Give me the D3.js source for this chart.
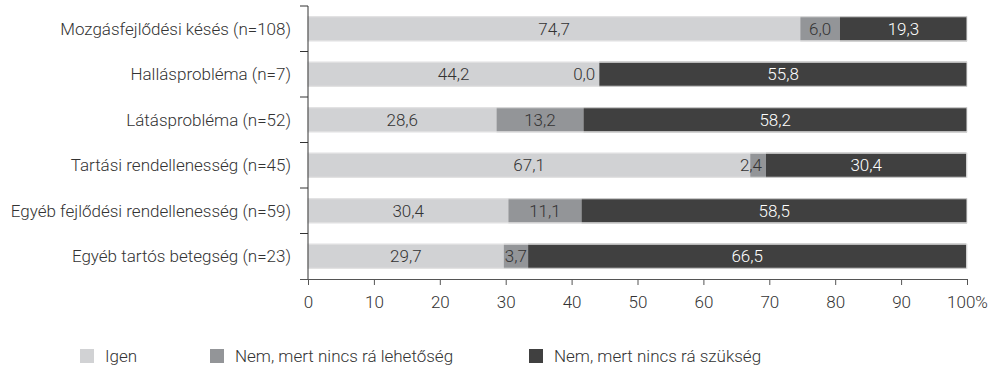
<!DOCTYPE html>
<html><head><meta charset="utf-8">
<script src="https://cdn.jsdelivr.net/npm/d3@7"></script>
<style>
body{margin:0;background:#fff;}
text{font-family:Roboto,"Open Sans",sans-serif;font-weight:300;}
</style></head>
<body><svg id="c" width="996" height="372"></svg>
<script>
const categories = ["Mozgásfejlődési késés  (n=108)","Hallásprobléma (n=7)","Látásprobléma (n=52)","Tartási rendellenesség (n=45)","Egyéb fejlődési rendellenesség (n=59)","Egyéb tartós betegség (n=23)"];
const seriesNames = ["Igen","Nem, mert nincs rá lehetőség","Nem, mert nincs rá szükség"];
const igen = [74.7,44.2,28.6,67.1,30.4,29.7];
const nincsLehetoseg = [6.0,0.0,13.2,2.4,11.1,3.7];
const nincsSzukseg = [19.3,55.8,58.2,30.4,58.5,66.5];
const xTicks = [0,10,20,30,40,50,60,70,80,90,100];
const colors = ["#d1d2d4","#939598","#404040"];
const textColors = ["#333333","#333333","#ffffff"];
const FS = 17;

const svg = d3.select("#c");
const x = d3.scaleLinear().domain([0,100]).range([308,967]);
const y = d3.scaleBand().domain(categories).range([6,279]).paddingInner(0.45).paddingOuter(0.225);

const rows = categories.map((c,i)=>({cat:c, vals:[igen[i],nincsLehetoseg[i],nincsSzukseg[i]]}));
const segs = [];
rows.forEach(r=>{let acc=0; r.vals.forEach((v,k)=>{segs.push({cat:r.cat,k,v,x0:acc,x1:acc+v}); acc+=v;});});

svg.append("g").selectAll("rect").data(segs).join("rect")
  .attr("x",d=>x(d.x0)).attr("width",d=>x(d.x1)-x(d.x0))
  .attr("y",d=>y(d.cat)).attr("height",y.bandwidth())
  .attr("fill",d=>colors[d.k]);
// light outline round each bar
svg.append("g").selectAll("rect").data(categories).join("rect")
  .attr("x",x(0)).attr("width",x(100)-x(0)).attr("y",d=>y(d)+0.5).attr("height",y.bandwidth()-1)
  .attr("fill","none").attr("stroke","#e4e4e4").attr("stroke-width",1);

const fmt = v=>v.toFixed(1).replace(".",",");
const lbl = svg.append("g").selectAll("text").data(segs).join("text")
  .attr("y",d=>y(d.cat)+y.bandwidth()/2).attr("dy","0.36em")
  .attr("font-size",FS).attr("fill",d=>textColors[d.k])
  .text(d=>fmt(d.v));
lbl.each(function(d){
  const w=this.getComputedTextLength(); const sw=x(d.x1)-x(d.x0);
  const s=d3.select(this);
  if(w>sw){s.attr("text-anchor","end").attr("x",x(d.x1)-4);}
  else {s.attr("text-anchor","middle").attr("x",(x(d.x0)+x(d.x1))/2);}
});

// y axis
const yAxisG = svg.append("g");
yAxisG.append("line").attr("x1",308).attr("x2",308).attr("y1",6).attr("y2",279).attr("stroke","#333");
const bounds = categories.map(c=>y(c)-y.step()*y.paddingInner()/2);
bounds[0]=6;
yAxisG.selectAll("line.t").data(bounds).join("line").attr("class","t")
  .attr("x1",300).attr("x2",308).attr("y1",d=>d).attr("y2",d=>d).attr("stroke","#333");
yAxisG.selectAll("text").data(categories).join("text")
  .attr("x",291).attr("y",d=>y(d)+y.bandwidth()/2).attr("dy","0.36em")
  .attr("text-anchor","end").attr("font-size",FS).attr("fill","#333").text(d=>d);

// x axis
const xa = svg.append("g").attr("transform","translate(0,279)")
  .call(d3.axisBottom(x).tickValues(xTicks).tickSize(6).tickPadding(11).tickFormat(d=>d===100?"100%":d));
xa.select(".domain").attr("stroke","#555").attr("d","M300,0.5H967");
xa.selectAll(".tick line").attr("stroke","#555");
xa.selectAll(".tick text").attr("font-size",FS).attr("fill","#333").attr("font-family",null);

// legend
const legX = [80,210,529];
const lg = svg.append("g").selectAll("g").data(seriesNames).join("g")
  .attr("transform",(d,i)=>`translate(${legX[i]},349)`);
lg.append("rect").attr("width",14).attr("height",14).attr("fill",(d,i)=>colors[i]);
lg.append("text").attr("x",25).attr("y",7).attr("dy","0.36em").attr("font-size",FS).attr("fill","#333").text(d=>d);
</script></body></html>
